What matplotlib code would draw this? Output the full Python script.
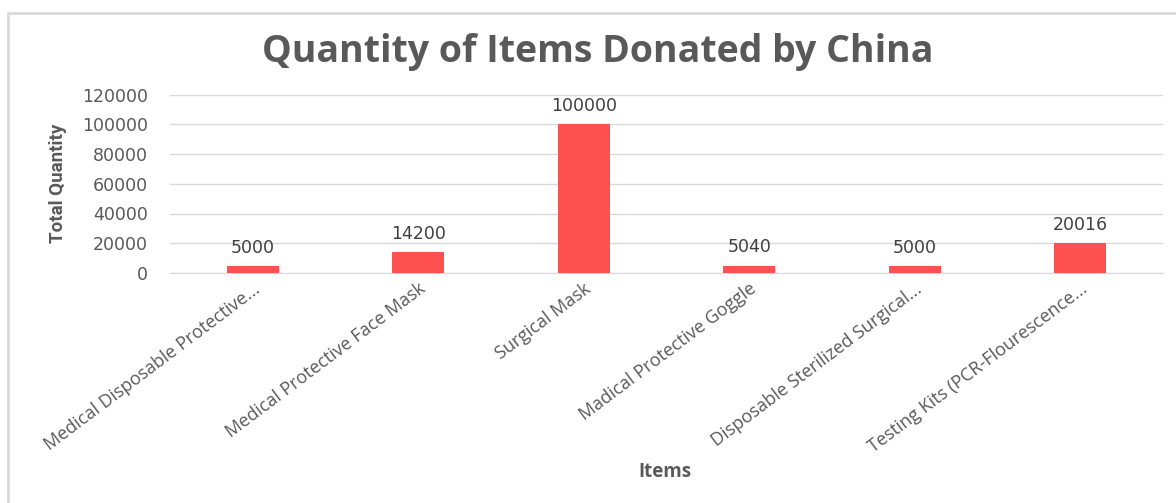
import matplotlib
matplotlib.use("Agg")
import matplotlib.pyplot as plt
from matplotlib.patches import Rectangle

items = [
    "Medical Disposable Protective...",
    "Medical Protective Face Mask",
    "Surgical Mask",
    "Madical Protective Goggle",
    "Disposable Sterilized Surgical...",
    "Testing Kits (PCR-Flourescence...",
]
quantities = [5000, 14200, 100000, 5040, 5000, 20016]
y_ticks = [0, 20000, 40000, 60000, 80000, 100000, 120000]

W, H = 1176, 503
fig = plt.figure(figsize=(W / 100, H / 100), dpi=100)
fig.patch.set_facecolor("white")

# chart-area frame
fig.patches.append(Rectangle((8 / W, -0.1), 1.2, (H - 13) / H + 0.1,
                             transform=fig.transFigure, fill=False,
                             edgecolor="#D9D9D9", linewidth=2, zorder=0))

ax = fig.add_axes([170 / W, (H - 273) / H, (1163 - 170) / W, (273 - 94.5) / H])
x = list(range(len(items)))
ax.bar(x, quantities, width=0.315, color="#FF5050", zorder=3)
ax.set_xlim(-0.5, len(items) - 0.5)
ax.set_ylim(0, 120000)
ax.set_yticks(y_ticks)
ax.set_yticklabels([str(v) for v in y_ticks], fontsize=12.5, color="#595959",
                   family="DejaVu Sans")
ax.yaxis.grid(True, color="#D9D9D9", linewidth=1)
ax.set_axisbelow(True)
for s in ["top", "right", "left"]:
    ax.spines[s].set_visible(False)
ax.spines["bottom"].set_color("#D9D9D9")
ax.tick_params(axis="both", length=0)
ax.tick_params(axis="y", pad=16)

ax.set_xticks(x)
ax.set_xticklabels(items, rotation=37, ha="right", rotation_mode="anchor",
                   fontsize=13, color="#595959", family="Open Sans")
ax.tick_params(axis="x", pad=5)

for xi, q in zip(x, quantities):
    ax.annotate(str(q), (xi, q), xytext=(0, 13), textcoords="offset points",
                ha="center", va="center", fontsize=12.5, color="#404040",
                family="DejaVu Sans")

fig.text(598 / W, 1 - 62 / H, "Quantity of Items Donated by China",
         ha="center", va="baseline", fontsize=27, fontweight="bold",
         color="#595959", family="Open Sans")
fig.text(58 / W, 1 - 183 / H, "Total Quantity", rotation=90, ha="center",
         va="center", fontsize=13.5, fontweight="bold", color="#595959",
         family="Roboto")
fig.text(665 / W, 1 - 477 / H, "Items", ha="center", va="baseline",
         fontsize=13.5, fontweight="bold", color="#595959", family="Open Sans")

fig.savefig("out.png", dpi=100)
